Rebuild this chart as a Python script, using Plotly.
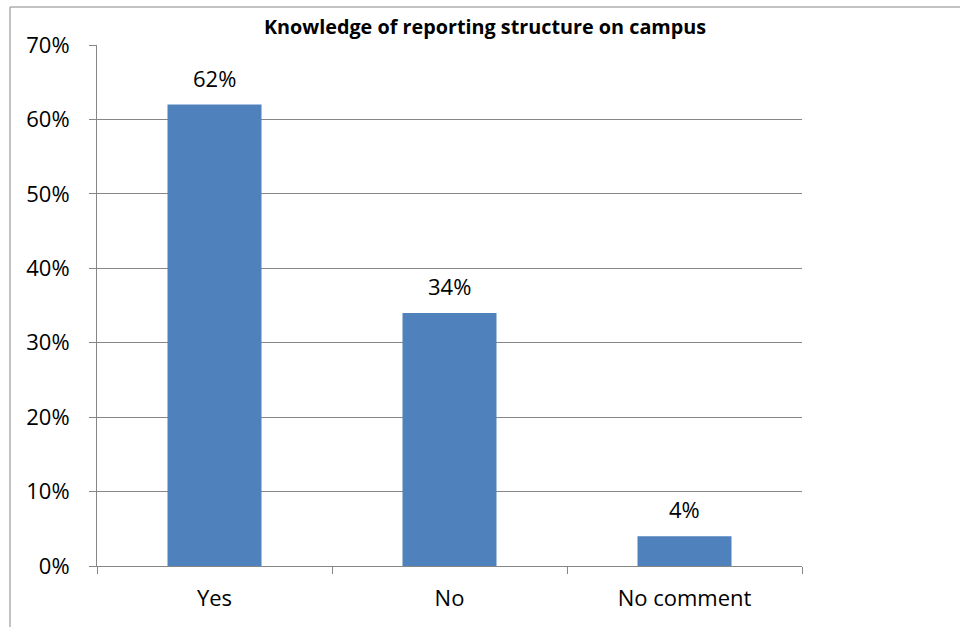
import plotly.graph_objects as go

categories = ["Yes", "No", "No comment"]
values = [0.62, 0.34, 0.04]
labels = ["62%", "34%", "4%"]
title = "Knowledge of reporting structure on campus"

W, H = 960, 627
L, R, T, B = 97, 802, 45, 566
FONT = "Open Sans"
FS = 22
GRAY = "#868686"

fig = go.Figure(go.Bar(
    x=categories, y=values,
    marker=dict(color="#4F81BD", line=dict(width=0)),
    width=0.4,
))

for c, v, t in zip(categories, values, labels):
    fig.add_annotation(x=c, y=v, text=t, showarrow=False, yanchor="middle",
                       yshift=27, font=dict(family=FONT, size=FS, color="black"))

fig.update_layout(
    width=W, height=H,
    margin=dict(l=L, r=W - R, t=T, b=H - B),
    paper_bgcolor="white", plot_bgcolor="white",
    showlegend=False,
    title=dict(text="<b>" + title + "</b>", x=485 / W, xref="container", xanchor="center",
               y=1 - 27 / H, yref="container", yanchor="middle",
               font=dict(family=FONT, size=19.8, color="black")),
    font=dict(family=FONT, size=FS, color="black"),
)
fig.update_yaxes(
    range=[0, 0.7], dtick=0.1, tickformat=".0%",
    showgrid=True, gridcolor=GRAY, gridwidth=1,
    showline=True, linecolor=GRAY, linewidth=1,
    ticks="outside", ticklen=7, tickcolor=GRAY,
    ticklabelstandoff=15, zeroline=False,
    tickfont=dict(family=FONT, size=FS, color="black"),
)
fig.update_xaxes(
    showline=True, linecolor=GRAY, linewidth=1,
    ticks="outside", ticklen=7, tickcolor=GRAY, tickson="boundaries",
    ticklabelstandoff=13,
    tickfont=dict(family=FONT, size=FS, color="black"),
)

pw, ph = R - L, B - T
fig.add_shape(type="rect", xref="paper", yref="paper",
              x0=(10 - L) / pw, x1=(1000 - L) / pw,
              y0=-(700 - B) / ph, y1=1 + (T - 7) / ph,
              line=dict(color=GRAY, width=1), fillcolor="rgba(0,0,0,0)", layer="below")

fig.write_html("out.html")
